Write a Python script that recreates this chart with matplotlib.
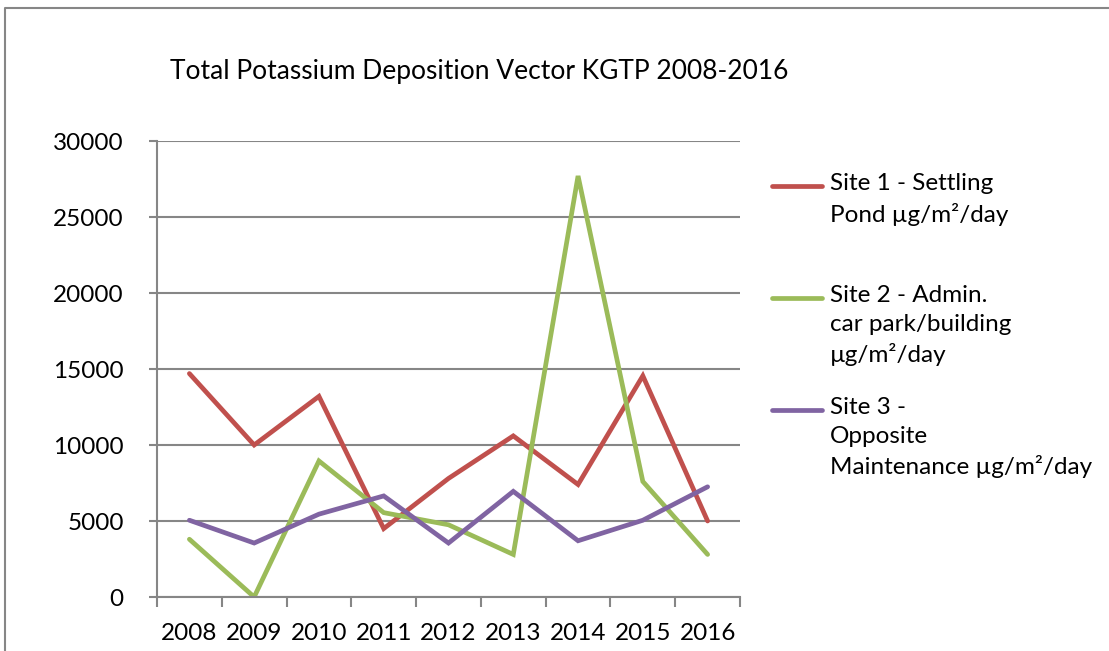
import matplotlib.pyplot as plt
from matplotlib.lines import Line2D
import numpy as np

plt.rcParams['font.family'] = ['Lato', 'DejaVu Sans']

years = ['2008', '2009', '2010', '2011', '2012', '2013', '2014', '2015', '2016']
site1 = [14700, 10000, 13200, 4500, 7800, 10600, 7400, 14550, 5000]
site2 = [3800, 0, 8950, 5550, 4750, 2800, 27700, 7600, 2800]
site3 = [5050, 3550, 5450, 6650, 3550, 6950, 3700, 5050, 7250]

labels = ['Site 1 - Settling\nPond µg/m²/day',
          'Site 2 - Admin.\ncar park/building\nµg/m²/day',
          'Site 3 -\nOpposite\nMaintenance µg/m²/day']
colors = ['#C0504D', '#9BBB59', '#8064A2']
grid_col = '#868686'

W, H = 1109, 651
fig = plt.figure(figsize=(W / 100, H / 100), dpi=100)
ax = fig.add_axes([157 / W, 1 - 597 / H, (740 - 157) / W, (597 - 141) / H])

x = np.arange(len(years))
for vals, c in zip([site1, site2, site3], colors):
    ax.plot(x, vals, color=c, lw=3.4, solid_joinstyle='miter', solid_capstyle='round')

ax.set_xlim(-0.5, len(years) - 0.5)
ax.set_ylim(0, 30000)
ax.set_yticks(range(0, 30001, 5000))
ax.set_xticks(x)
ax.set_xticklabels(years)
ax.set_xticks(np.arange(-0.5, len(years), 1), minor=True)
ax.tick_params(axis='x', which='major', length=0, pad=19, labelsize=17.5)
ax.tick_params(axis='x', which='minor', length=7, width=1.5, color=grid_col, direction='out')
ax.tick_params(axis='y', length=6, width=1.5, color=grid_col, labelsize=17.5, pad=18)
ax.grid(axis='y', color=grid_col, lw=1.5)
ax.set_axisbelow(True)
for s in ['top', 'right']:
    ax.spines[s].set_visible(False)
for s in ['left', 'bottom']:
    ax.spines[s].set_color(grid_col)
    ax.spines[s].set_linewidth(1.5)

fig.text(170 / W, 1 - 71 / H, 'Total Potassium Deposition Vector KGTP 2008-2016',
         fontsize=19, va='center', ha='left')

# legend drawn by hand so the key line sits on the first text line
leg_y = [186, 298, 410]
for lab, c, yy in zip(labels, colors, leg_y):
    fig.add_artist(Line2D([772 / W, 822 / W], [1 - yy / H, 1 - yy / H],
                          color=c, lw=3.4, solid_capstyle='round'))
    fig.text(830 / W, 1 - (yy - 13) / H, lab, fontsize=17.5, va='top', ha='left',
             linespacing=1.45)

# outer chart frame
fig.add_artist(Line2D([5 / W, 5 / W, 1], [0, 1 - 8 / H, 1 - 8 / H], color=grid_col, lw=1.5))

fig.savefig('out.png', dpi=100)
